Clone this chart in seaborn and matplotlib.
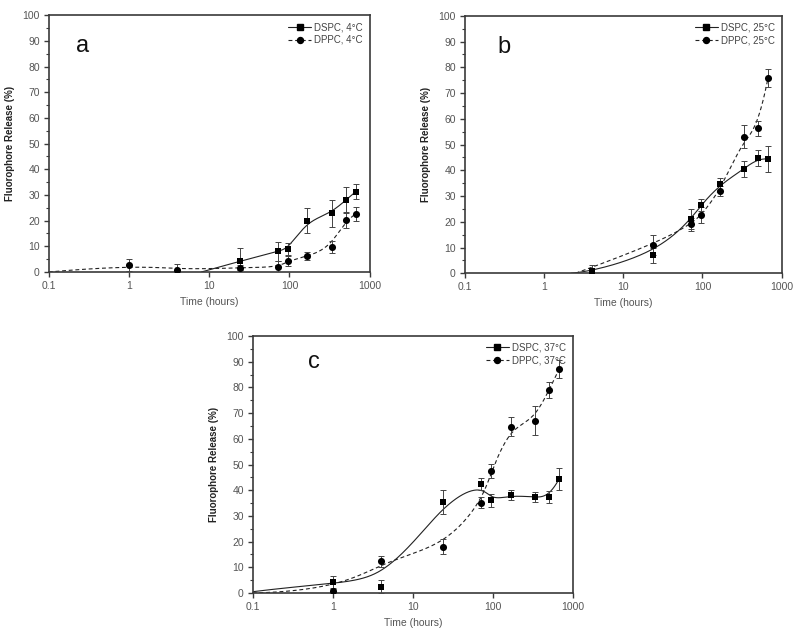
import numpy as np
import pandas as pd
import matplotlib
matplotlib.use("Agg")
import matplotlib.pyplot as plt
from matplotlib.lines import Line2D
import seaborn as sns

# ---------------- data ----------------
times = [1, 4, 24, 72, 96, 168, 336, 504, 672]

# panel a (4 °C)
a_dspc_t = [24, 72, 96, 168, 336, 504, 672]
a_dspc = [4.2, 8.0, 9.0, 20.0, 22.8, 28.0, 31.3]
a_dspc_err = [5.0, 3.7, 2.3, 5.0, 5.3, 5.0, 3.0]
a_dppc_t = times
a_dppc = [2.7, 0.8, 1.7, 1.8, 4.3, 6.1, 9.7, 20.2, 22.6]
a_dppc_err = [2.3, 2.2, 1.0, 2.5, 2.0, 1.5, 2.5, 3.0, 2.6]
a_dspc_start = (8.0, 0.0)
a_dppc_start = (0.1, 0.0)

# panel b (25 °C)
b_dspc_t = [4, 24, 72, 96, 168, 336, 504, 672]
b_dspc = [0.7, 7.0, 21.0, 26.5, 34.5, 40.5, 44.7, 44.4]
b_dspc_err = [2.5, 3.0, 4.0, 2.5, 2.5, 3.0, 3.0, 5.0]
b_dppc_t = [24, 72, 96, 168, 336, 504, 672]
b_dppc = [11.0, 19.0, 22.6, 32.0, 53.0, 56.3, 75.7]
b_dppc_err = [4.0, 2.5, 3.0, 2.0, 4.5, 3.0, 3.5]
b_dspc_start = (2.2, 0.0)
b_dppc_start = (2.5, 0.0)

# panel c (37 °C)
c_dspc_t = times
c_dspc = [4.3, 2.5, 35.3, 42.3, 36.0, 38.0, 37.3, 37.2, 44.3]
c_dspc_err = [2.3, 2.7, 4.7, 2.3, 2.5, 2.0, 2.0, 2.3, 4.3]
c_dppc_t = times
c_dppc = [0.7, 12.3, 18.0, 35.2, 47.5, 64.7, 67.0, 79.0, 87.0]
c_dppc_err = [1.0, 2.2, 3.0, 2.0, 2.7, 3.7, 5.7, 3.0, 3.5]
c_dspc_start = (0.1, 0.5)
c_dppc_start = (0.1, 0.0)

panel_letters = ["a", "b", "c"]
temps = ["4°C", "25°C", "37°C"]
x_ticks = [0.1, 1, 10, 100, 1000]
x_ticklabels = ["0.1", "1", "10", "100", "1000"]
y_ticks = list(range(0, 101, 10))


def bspline(xs, ys, num=400, k=3):
    """Clamped uniform cubic B-spline (log-x) using the data as control points."""
    P = np.column_stack([np.log10(xs), ys])
    n = len(P)
    k = min(k, n - 1)
    knots = np.concatenate([np.zeros(k), np.linspace(0, 1, n - k + 1), np.ones(k)])
    u = np.linspace(0, 1, num)
    u[-1] -= 1e-9
    B = ((knots[:-1][None, :] <= u[:, None]) & (u[:, None] < knots[1:][None, :])).astype(float)
    for p in range(1, k + 1):
        nb = B.shape[1] - 1
        newB = np.zeros((len(u), nb))
        for i in range(nb):
            d1 = knots[i + p] - knots[i]
            d2 = knots[i + p + 1] - knots[i + 1]
            t1 = (u - knots[i]) / d1 * B[:, i] if d1 > 0 else 0
            t2 = (knots[i + p + 1] - u) / d2 * B[:, i + 1] if d2 > 0 else 0
            newB[:, i] = t1 + t2
        B = newB
    C = B @ P
    return 10 ** C[:, 0], C[:, 1]


sns.set_theme(style="white")
plt.rcParams["font.family"] = ["Liberation Sans", "DejaVu Sans"]

fig = plt.figure(figsize=(8.0, 6.34), dpi=100)
positions = [
    [0.061, 0.571, 0.401, 0.405],
    [0.581, 0.569, 0.396, 0.406],
    [0.316, 0.0647, 0.400, 0.4053],
]
letter_pos = [(0.22, 88), (0.26, 88), (0.49, 90)]

panels = [
    (a_dspc_t, a_dspc, a_dspc_err, a_dspc_start, a_dppc_t, a_dppc, a_dppc_err, a_dppc_start),
    (b_dspc_t, b_dspc, b_dspc_err, b_dspc_start, b_dppc_t, b_dppc, b_dppc_err, b_dppc_start),
    (c_dspc_t, c_dspc, c_dspc_err, c_dspc_start, c_dppc_t, c_dppc, c_dppc_err, c_dppc_start),
]

spine_col = "#3a3a3a"
tick_col = "#555555"

for idx, (pos, pan) in enumerate(zip(positions, panels)):
    st, sv, se, ss, pt, pv, pe, ps = pan
    ax = fig.add_axes(pos)
    ax.set_xscale("log")

    # fitted B-spline curves
    cx, cy = bspline([ss[0]] + list(st), [ss[1]] + list(sv))
    sns.lineplot(x=cx, y=cy, ax=ax, color="#222222", lw=0.8, sort=False,
                 estimator=None, legend=False)
    dx, dy = bspline([ps[0]] + list(pt), [ps[1]] + list(pv))
    sns.lineplot(x=dx, y=dy, ax=ax, color="#222222", lw=0.8, sort=False,
                 estimator=None, legend=False)
    ax.lines[-1].set_linestyle((0, (3.5, 2.5)))

    # error bars
    ax.errorbar(st, sv, yerr=se, fmt="none", ecolor="#444444", elinewidth=0.7,
                capsize=2.5, capthick=0.7, zorder=3)
    ax.errorbar(pt, pv, yerr=pe, fmt="none", ecolor="#444444", elinewidth=0.7,
                capsize=2.5, capthick=0.7, zorder=3)

    # markers
    sns.scatterplot(x=st, y=sv, ax=ax, marker="s", s=24, color="black",
                    edgecolor="black", linewidth=0, zorder=4, legend=False)
    sns.scatterplot(x=pt, y=pv, ax=ax, marker="o", s=26, color="black",
                    edgecolor="black", linewidth=0, zorder=4, legend=False)

    ax.set_xlim(0.1, 1000)
    ax.set_ylim(0, 100)
    ax.set_xticks(x_ticks)
    ax.set_xticklabels(x_ticklabels)
    ax.xaxis.set_minor_locator(matplotlib.ticker.NullLocator())
    ax.set_yticks(y_ticks)
    ax.yaxis.set_minor_locator(matplotlib.ticker.MultipleLocator(5))
    ax.tick_params(axis="both", which="major", direction="out", length=3.5,
                   width=1.0, color=spine_col, labelsize=7.5, labelcolor=tick_col,
                   bottom=True, left=True, top=False, right=False, pad=3)
    ax.tick_params(axis="y", which="minor", direction="out", length=2,
                   width=0.8, color=spine_col, left=True)
    for sp in ax.spines.values():
        sp.set_visible(True)
        sp.set_color(spine_col)
        sp.set_linewidth(1.2)

    ax.set_xlabel("Time (hours)", fontsize=7.5, color="#555555", labelpad=4)
    ax.set_ylabel("Fluorophore Release (%)", fontsize=7, color="#222222",
                  fontweight="bold", labelpad=5)

    lx, ly = letter_pos[idx]
    ax.text(lx, ly, panel_letters[idx], fontsize=17, color="#111111",
            ha="left", va="center")

    handles = [
        Line2D([], [], color="#222222", lw=0.8, marker="s", markersize=4.3,
               markerfacecolor="black", markeredgecolor="black"),
        Line2D([], [], color="#222222", lw=0.8, ls=(0, (3.5, 2.5)), marker="o",
               markersize=4.3, markerfacecolor="black", markeredgecolor="black"),
    ]
    leg = ax.legend(handles, [f"DSPC, {temps[idx]}", f"DPPC, {temps[idx]}"],
                    loc="upper right", frameon=False, fontsize=7,
                    handlelength=2.4, handletextpad=0.3, labelspacing=0.3,
                    borderaxespad=0.3)
    for t in leg.get_texts():
        t.set_color("#444444")

fig.savefig("out.png", dpi=100, facecolor="white")
